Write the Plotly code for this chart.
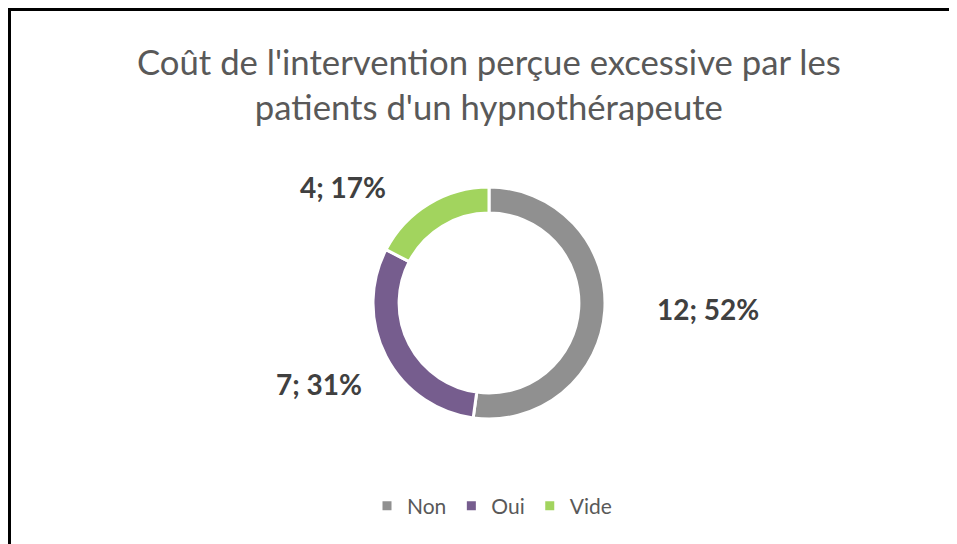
import plotly.graph_objects as go

labels = ["Non", "Oui", "Vide"]
values = [12, 7, 4]
percents = ["52%", "31%", "17%"]
colors = ["#909090", "#765d8e", "#a2d45e"]
title_text = "Coût de l'intervention perçue excessive par les<br>patients d'un hypnothérapeute"

W, H = 957, 544
OFF = 8  # browser page margin

def px(x):
    return (x - OFF) / W

def py(y):
    return 1 - (y - OFF) / H

fig = go.Figure()
fig.add_trace(go.Pie(
    labels=labels,
    values=values,
    hole=0.775,
    sort=False,
    direction="clockwise",
    rotation=0,
    marker=dict(colors=colors, line=dict(color="white", width=3)),
    textinfo="none",
    hoverinfo="label+value+percent",
    domain=dict(x=[px(373), px(605)], y=[py(419), py(187)]),
    showlegend=True,
))

label_pos = [(708, 309), (319, 384), (343, 187)]
for (lx, ly), v, p in zip(label_pos, values, percents):
    fig.add_annotation(
        x=px(lx), y=py(ly), xref="paper", yref="paper",
        xanchor="center", yanchor="middle",
        text=f"<b>{v}; {p}</b>", showarrow=False,
        font=dict(size=28, color="#404040", family="Lato, Open Sans, sans-serif"),
    )

fig.add_annotation(
    x=px(489), y=py(84), xref="paper", yref="paper",
    xanchor="center", yanchor="middle",
    text=title_text, showarrow=False,
    font=dict(size=34.7, color="#595959", family="Lato, Open Sans, sans-serif"),
    align="center",
)

fig.add_shape(
    type="rect", xref="paper", yref="paper",
    x0=1.5 / W, y0=-0.1, x1=1.1, y1=1 - 1.5 / H,
    line=dict(color="black", width=3),
)

fig.update_layout(
    width=W, height=H,
    margin=dict(l=0, r=0, t=0, b=0),
    paper_bgcolor="white",
    plot_bgcolor="white",
    legend=dict(
        orientation="h", x=px(492), xanchor="center", y=py(506), yanchor="middle",
        font=dict(size=21, color="#595959", family="Lato, Open Sans, sans-serif"),
        itemclick=False,
    ),
)

fig.write_html("out.html")
